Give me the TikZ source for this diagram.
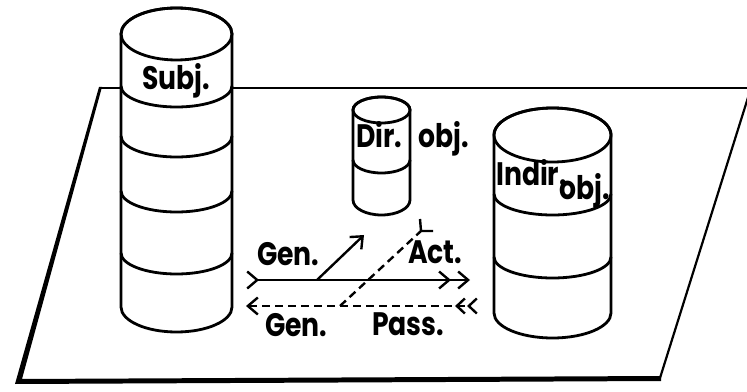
\documentclass[tikz,border=0pt]{standalone}
\usepackage{graphicx}
\usepackage{fontspec}
\setmainfont{Poppins}
\newcommand{\lbl}[1]{\scalebox{0.82}[1]{#1}}
\usetikzlibrary{arrows.meta}
\begin{document}
\begin{tikzpicture}[x=1pt,y=1pt,
  cyl/.style={line width=2.8pt, fill=white, line join=round},
  band/.style={line width=2.8pt},
  plate/.style={line width=1.8pt},
  lab/.style={anchor=base west, inner sep=0pt, font=\fontsize{32.5}{32.5}\selectfont\bfseries},
  arr/.style={line width=2.4pt},
  dsh/.style={line width=2.4pt, dash pattern=on 8pt off 5pt}]
\useasboundingbox (0,0) rectangle (747,391);
% plate
\coordinate (TL) at (100,303);
\coordinate (TR) at (751,303);
\coordinate (BR) at (660,13);
\coordinate (BL) at (18,9);
\draw[plate] (TL) -- (TR);
\draw[line width=2.2pt] (TR) -- (BR);
\fill (99,304) -- (15,7) -- (661,10) -- (661,15) -- (22,12) -- (102,304) -- cycle;
% Subj cylinder
\draw[cyl] (121,357) arc[start angle=180,end angle=0,x radius=55.5,y radius=26] -- (232,84) arc[start angle=0,end angle=-180,x radius=55.5,y radius=25] -- cycle;
\draw[band] (176.5,357) ellipse[x radius=55.5,y radius=26];
\foreach \yy in {305,255,200,138}{
  \draw[band] (121,\yy) arc[start angle=180,end angle=360,x radius=55.5,y radius=21];
}
% Dir cylinder
\draw[cyl] (353,281) arc[start angle=180,end angle=0,x radius=28.5,y radius=13] -- (410,191) arc[start angle=0,end angle=-180,x radius=28.5,y radius=15] -- cycle;
\draw[band] (381.5,281) ellipse[x radius=28.5,y radius=13];
\draw[band] (353,231) arc[start angle=180,end angle=360,x radius=28.5,y radius=13];
% Indir cylinder
\draw[cyl] (494,256) arc[start angle=180,end angle=0,x radius=58.5,y radius=27] -- (611,78) arc[start angle=0,end angle=-180,x radius=58.5,y radius=25] -- cycle;
\draw[band] (552.5,256) ellipse[x radius=58.5,y radius=27];
\foreach \yy in {197,134}{
  \draw[band] (494,\yy) arc[start angle=180,end angle=360,x radius=58.5,y radius=21];
}
% labels
\node[lab] (subj) at (142,301) {\lbl{Subj.}};
\node[lab] (dir) at (356,243) {\lbl{Dir.}};
\node[lab] (dobj) at (418,243) {\lbl{obj.}};
\node[lab] (indir) at (496,205) {\lbl{Indir.}};
\node[lab] (iobj) at (559,191) {\lbl{obj.}};
\node[lab] (gen1) at (257,125) {\lbl{Gen.}};
\node[lab] (act) at (408,127) {\lbl{Act.}};
\node[lab] (gen2) at (265,54) {\lbl{Gen.}};
\node[lab] (pass) at (372,56) {\lbl{Pass.}};
% arrows
\coordinate (s1) at (246,111);
\coordinate (s2) at (470,111);
\coordinate (g1) at (317,111);
\coordinate (g2) at (364,156);
\coordinate (d1) at (246,85);
\coordinate (d2) at (478,85);
\coordinate (q1) at (340,85);
\coordinate (q2) at (421,160);
\draw[arr, {Straight Barb[reversed,length=10pt,width=17pt]}-{Straight Barb[length=10pt,width=17pt,sep=6pt]Straight Barb[length=10pt,width=17pt]}] (s1) -- (s2);
\draw[arr, -{Straight Barb[length=10pt,width=17pt]}] (g1) -- (g2);
\draw[dsh, {Straight Barb[length=10pt,width=17pt]}-{Straight Barb[reversed,length=8pt,width=15pt,sep=1pt]Straight Barb[reversed,length=8pt,width=15pt]}] (d1) -- (d2);
\draw[dsh] (q1) -- (q2);
\draw[arr, line join=miter] (q2) ++(-1,12) -- (q2) -- ++(12,0);
\end{tikzpicture}
\end{document}
